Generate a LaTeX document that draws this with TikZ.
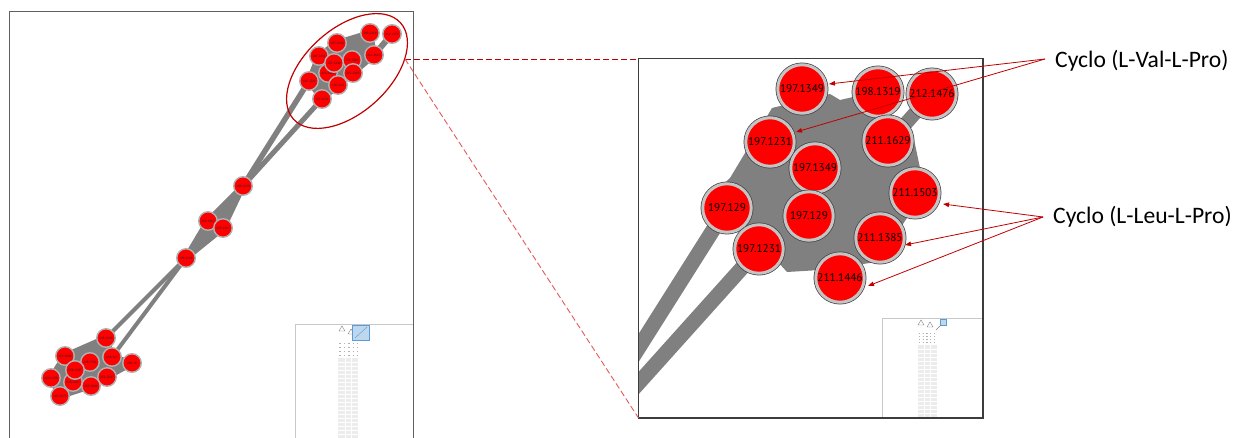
\documentclass[tikz,border=0pt]{standalone}
\usepackage{fontspec}
\setmainfont{Carlito}
\newfontfamily\numfont{Liberation Sans}
\newfontfamily\rnumfont{PT Sans}
\usetikzlibrary{shapes.geometric,arrows.meta}
\pgfdeclarelayer{bg}
\pgfsetlayers{bg,main}
\definecolor{nodered}{RGB}{255,0,0}
\definecolor{ringgray}{RGB}{196,196,196}
\definecolor{ringgrayl}{RGB}{176,176,176}
\definecolor{outl}{RGB}{64,64,64}
\definecolor{edgegray}{RGB}{128,128,128}
\definecolor{darkred}{RGB}{192,0,0}
\definecolor{lightred}{RGB}{228,90,90}
\definecolor{framegray}{RGB}{96,96,96}
\definecolor{framedark}{RGB}{60,60,60}
\definecolor{mapgray}{RGB}{200,200,200}
\definecolor{mapgrid}{RGB}{236,236,236}
\definecolor{mapblue}{RGB}{189,215,238}
\definecolor{mapblueb}{RGB}{91,155,213}
\tikzset{
  lnode/.style={circle, fill=nodered, draw=ringgrayl, line width=1.4pt, minimum size=18.5pt, inner sep=0pt,
    font=\numfont\fontsize{3.2}{3.5}\selectfont, text=black!85},
  rnode/.style={circle, fill=nodered, draw=ringgray, line width=3pt, minimum size=48.5pt, inner sep=0pt,
    font=\rnumfont\fontsize{11.2}{12}\selectfont, text=black, preaction={draw=outl, line width=4.4pt}},
  band/.style={draw=edgegray, line cap=butt},
  hull/.style={fill=edgegray, draw=edgegray, line join=round},
  arr/.style={draw=darkred, line width=0.8pt, -{Triangle[length=6pt,width=4.5pt]}},
  lab/.style={anchor=west, inner sep=0pt, font=\fontsize{23.6}{26}\selectfont, text=black},
  zoomline/.style={line width=0.9pt, dash pattern=on 6pt off 3pt},
}
\begin{document}
\begin{tikzpicture}[x=1pt,y=-1pt]
\useasboundingbox (0,0) rectangle (1233,438);
\begin{pgfonlayer}{bg}
  \fill[white] (0,0) rectangle (1233,438);
\end{pgfonlayer}

% ---------------- left panel nodes ----------------
% top cluster
\node[lnode] (l1446) at (328,73) {211.1446};
\node[lnode] (l1503) at (352,60) {211.1503};
\node[lnode] (l1231a) at (319,56) {197.1231};
\node[lnode] (l1349a) at (337,43) {197.1349};
\node[lnode] (l1349b) at (334,63) {197.1349};
\node[lnode] (l1385) at (353,73) {211.1385};
\node[lnode] (l129a) at (309,81) {197.129};
\node[lnode] (l129b) at (338,85) {197.129};
\node[lnode] (l1231b) at (322,99) {197.1231};
\node[lnode] (l1319) at (370,33) {198.1319};
\node[lnode] (l1476) at (392,34) {212.1476};
\node[lnode] (l1629) at (374,55) {211.1629};
% middle
\node[lnode] (l1180) at (243,186) {195.1180};
\node[lnode] (l1317) at (208,221) {203.1317};
\node[lnode] (l1217) at (223,228) {225.1217};
\node[lnode] (l1218) at (186,258) {195.1218};
% bottom cluster
\node[lnode] (l1326) at (106,338) {236.1326};
\node[lnode] (l1892) at (65,356) {252.1892};
\node[lnode] (l127) at (112,357) {236.127};
\node[lnode] (l15) at (132,363) {263.15};
\node[lnode] (lhid) at (73,382) {238.1397};
\node[lnode] (l1781) at (90,362) {245.1781};
\node[lnode] (l1597a) at (75,370) {258.1597};
\node[lnode] (l2158) at (51,378) {223.2158};
\node[lnode] (l1597b) at (107,377) {251.1597};
\node[lnode] (l1804) at (91,386) {265.1804};
\node[lnode] (l2275) at (60,396) {265.2275};

\begin{pgfonlayer}{bg}
  \filldraw[hull, line width=6pt] (l129a.center) -- (l1231a.center) -- (l1349a.center) -- (l1319.center) -- (l1629.center) -- (l1385.center) -- (l129b.center) -- (l1231b.center) -- cycle;
  \draw[band, line width=6pt] (l1629.center) -- (l1476.center);
  \draw[band, line width=5.5pt] (l129a.center) -- (l1180.center);
  \draw[band, line width=5pt] (l1231b.center) -- (l1180.center);
  \filldraw[hull, line width=6pt] (l1180.center) -- (l1317.center) -- (l1218.center) -- (l1217.center) -- cycle;
  \draw[band, line width=4pt] (l1218.center) -- (l1326.center);
  \draw[band, line width=4pt] (l1218.center) -- (l127.center);
  \filldraw[hull, line width=6pt] (l1892.center) -- (l1326.center) -- (l127.center) -- (l15.center) -- (l1597b.center) -- (l1804.center) -- (l2275.center) -- (l2158.center) -- cycle;
\end{pgfonlayer}

% ellipse around top cluster
\node[ellipse, draw=darkred, line width=1.2pt, minimum width=144pt, minimum height=84pt, inner sep=0pt, rotate=42] (ell) at (347,71) {};

% left mini map
\draw[mapgray, line width=0.8pt] (295,438) -- (295,324) -- (413,324);
\draw[gray, line width=0.4pt] (339,331) -- (342,326) -- (345,331) -- cycle;
\draw[gray, line width=0.4pt] (348,334) -- (351,329) -- (354,334) -- cycle;
\filldraw[fill=mapblue, draw=mapblueb, line width=0.6pt] (352,325) rectangle (369,340);
\draw[mapblueb, line width=0.4pt] (355,338) -- (367,327);
\foreach \yy in {343,347,351,355}{
  \draw[gray!60, line width=0.7pt, dash pattern=on 1.5pt off 3pt] (339,\yy) -- (358,\yy);
}
\fill[mapgrid] (338,358) rectangle (358,438);
\foreach \yy in {362,366,...,438}{ \draw[white, line width=0.5pt] (338,\yy) -- (358,\yy); }
\draw[white, line width=0.5pt] (345,358) -- (345,438) (351,358) -- (351,438);

% left panel frame
\draw[framegray, line width=1pt] (9,438) -- (9,12) -- (413,12) -- (413,438);

% ---------------- right panel ----------------
\node[rnode] (r1349a) at (802,89) {197.1349};
\node[rnode] (r1319) at (878,92) {198.1319};
\node[rnode] (r1476) at (932,94) {212.1476};
\node[rnode] (r1629) at (888,141) {211.1629};
\node[rnode] (r1231a) at (770,142) {197.1231};
\node[rnode] (r1349b) at (815,168) {197.1349};
\node[rnode] (r1503) at (915,193) {211.1503};
\node[rnode] (r129a) at (727,208) {197.129};
\node[rnode] (r129b) at (809,216) {197.129};
\node[rnode] (r1385) at (880,238) {211.1385};
\node[rnode] (r1231b) at (759,249) {197.1231};
\node[rnode] (r1446) at (840,278) {211.1446};

\coordinate (rb1) at (600,409);
\coordinate (rb2) at (600,426);
\coordinate (rb3) at (900,130);
\begin{pgfonlayer}{bg}
  \begin{scope}
    \clip (638.5,58.5) rectangle (983,418);
    \fill[edgegray] (772,108) -- (830,94) -- (840,100) -- (853,97) -- (877,117) -- (912,130) -- (920,168)
       -- (907,218) -- (877,262) -- (820,270) -- (787,272) -- (747,228) -- (712,195) -- (730,178) -- cycle;
    \draw[band, line width=14pt] (r1476.center) -- (rb3);
    \draw[band, line width=15pt] (r129a.center) -- (rb1);
    \draw[band, line width=15pt] (r1231b.center) -- (rb2);
  \end{scope}
\end{pgfonlayer}

% right mini map
\draw[mapgray, line width=0.8pt] (882,418) -- (882,318) -- (983,318);
\draw[gray, line width=0.4pt] (918,325) -- (921,320) -- (924,325) -- cycle;
\draw[gray, line width=0.4pt] (927,327) -- (930,322) -- (933,327) -- cycle;
\filldraw[fill=mapblue, draw=mapblueb, line width=0.5pt] (940,319) rectangle (946,325);
\draw[gray, line width=0.4pt] (941,325) -- (936,330);
\foreach \yy in {333,336,339,342}{
  \draw[gray!60, line width=0.6pt, dash pattern=on 1.2pt off 2.5pt] (919,\yy) -- (936,\yy);
}
\fill[mapgrid] (918,345) rectangle (937,418);
\foreach \yy in {349,353,...,418}{ \draw[white, line width=0.5pt] (918,\yy) -- (937,\yy); }
\draw[white, line width=0.5pt] (924,345) -- (924,418) (930,345) -- (930,418);

% right panel frame
\draw[framedark, line width=1.2pt] (638.5,58.5) rectangle (983,418);

% zoom lines
\coordinate (zs) at (405,59);
\coordinate (zt) at (638.5,59);
\coordinate (zb) at (638.5,418);
\draw[zoomline, darkred] (zs) -- (zt);
\draw[zoomline, lightred] (zs) -- (zb);

% labels and arrows
\node[lab] (vallab) at (1055,61) {Cyclo (L-Val-L-Pro)};
\node[lab] (leulab) at (1053,217) {Cyclo (L-Leu-L-Pro)};
\coordinate (valsrc) at (1045,59);
\coordinate (leusrc) at (1043,217);
\coordinate (v1) at (829,84);
\coordinate (v2) at (796,132);
\coordinate (u1) at (943,204);
\coordinate (u2) at (905,245);
\coordinate (u3) at (868,286);
\draw[arr] (valsrc) -- (v1);
\draw[arr] (valsrc) -- (v2);
\draw[arr] (leusrc) -- (u1);
\draw[arr] (leusrc) -- (u2);
\draw[arr] (leusrc) -- (u3);
\end{tikzpicture}
\end{document}
